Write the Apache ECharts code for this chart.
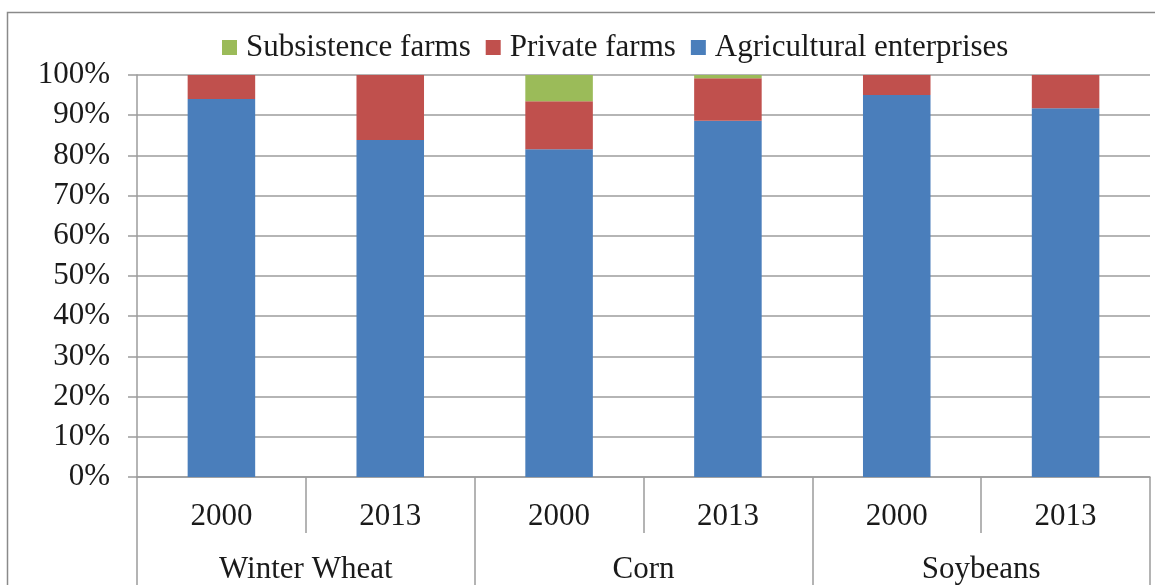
<!DOCTYPE html>
<html>
<head>
<meta charset="utf-8">
<title>Production structure by farm type</title>
<script src="https://cdn.jsdelivr.net/npm/echarts@6/dist/echarts.min.js"></script>
<style>
  html, body { margin: 0; padding: 0; background: #ffffff; }
  #chart { width: 1155px; height: 585px; }
</style>
</head>
<body>
<div id="chart"></div>
<script>
// Year columns, grouped by crop
const years = ['2000', '2013', '2000', '2013', '2000', '2013'];
const crops = ['Winter Wheat', 'Corn', 'Soybeans'];

// Share of production, percent
const agriculturalEnterprises = [94.0, 83.8, 81.5, 88.6, 95.0, 91.7];
const privateFarms = [6.0, 16.2, 12.0, 10.6, 5.0, 8.3];
const subsistenceFarms = [0, 0, 6.5, 0.8, 0, 0];

const seriesNames = ['Subsistence farms', 'Private farms', 'Agricultural enterprises'];
const colors = { blue: '#4a7ebb', red: '#c0504d', green: '#9bbb59' };

const FONT = '"Liberation Serif", "Times New Roman", serif';
const TEXT = '#1a1a1a';
const GRID = '#9c9c9c';

const chart = echarts.init(document.getElementById('chart'), null, { renderer: 'canvas' });

chart.setOption({
  animation: false,
  backgroundColor: '#ffffff',
  graphic: [{
    type: 'rect',
    shape: { x: 7.5, y: 12.5, width: 1300, height: 800 },
    style: { fill: 'none', stroke: '#8a8a8a', lineWidth: 1.5 },
    silent: true,
    z: -1
  }],
  legend: {
    data: seriesNames,
    left: 217,
    top: 27,
    icon: 'rect',
    itemWidth: 15,
    itemHeight: 15,
    itemGap: 15,
    textStyle: { fontFamily: FONT, fontSize: 31, color: TEXT, padding: [0, 0, 0, 4] }
  },
  grid: { left: 137, right: 5, top: 75, bottom: 108, containLabel: false, outerBoundsMode: 'none' },
  xAxis: [
    {
      type: 'category',
      data: years,
      position: 'bottom',
      offset: 0,
      axisLine: { show: true, lineStyle: { color: GRID, width: 1.5 } },
      axisTick: { show: true, interval: 0, length: 56, alignWithLabel: false, lineStyle: { color: GRID, width: 1.5 } },
      axisLabel: { interval: 0, margin: 24, fontFamily: FONT, fontSize: 31, color: TEXT },
      splitLine: { show: false }
    },
    {
      type: 'category',
      data: crops,
      position: 'bottom',
      offset: 0,
      axisLine: { show: false },
      axisTick: { show: true, interval: 0, length: 130, alignWithLabel: false, lineStyle: { color: GRID, width: 1.5 } },
      axisLabel: { interval: 0, margin: 77, fontFamily: FONT, fontSize: 31, color: TEXT },
      splitLine: { show: false }
    }
  ],
  yAxis: {
    type: 'value',
    min: 0,
    max: 100,
    interval: 10,
    axisLine: { show: true, lineStyle: { color: GRID, width: 1.5 } },
    axisTick: { show: true, length: 9, lineStyle: { color: GRID, width: 1.5 } },
    axisLabel: { formatter: '{value}%', margin: 27, fontFamily: FONT, fontSize: 31, color: TEXT },
    splitLine: { show: true, lineStyle: { color: GRID, width: 1.5 } }
  },
  series: [
    {
      name: 'Agricultural enterprises',
      type: 'bar',
      stack: 'share',
      xAxisIndex: 0,
      barCategoryGap: '60%',
      itemStyle: { color: colors.blue },
      data: agriculturalEnterprises
    },
    {
      name: 'Private farms',
      type: 'bar',
      stack: 'share',
      xAxisIndex: 0,
      barCategoryGap: '60%',
      itemStyle: { color: colors.red },
      data: privateFarms
    },
    {
      name: 'Subsistence farms',
      type: 'bar',
      stack: 'share',
      xAxisIndex: 0,
      barCategoryGap: '60%',
      itemStyle: { color: colors.green },
      data: subsistenceFarms
    }
  ]
});
</script>
</body>
</html>
